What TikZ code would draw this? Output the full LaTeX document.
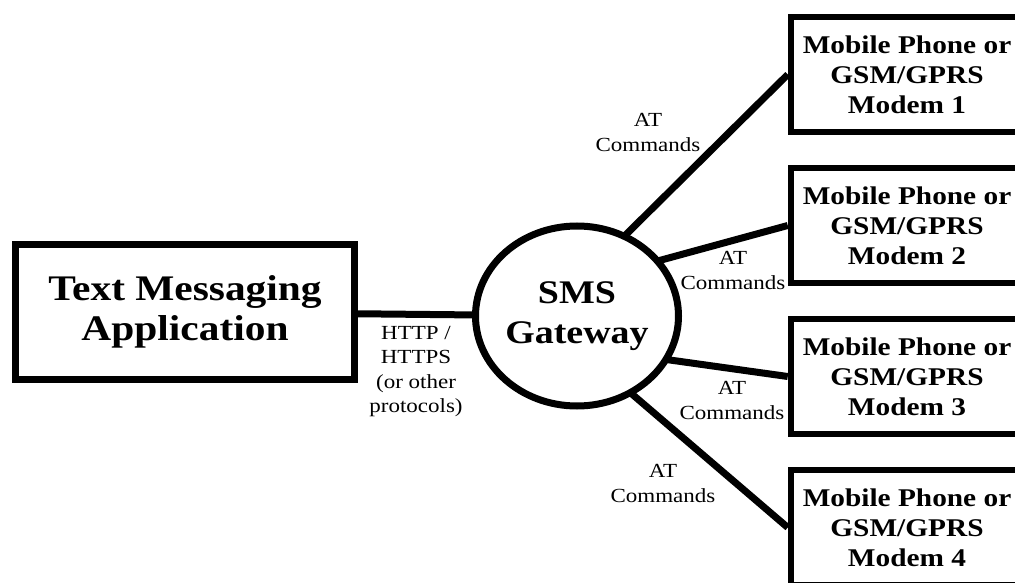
\documentclass[tikz,border=0pt]{standalone}
\usepackage{fontspec}
\setmainfont{Liberation Serif}[FakeStretch=1.15]
\usetikzlibrary{positioning,shapes.geometric,backgrounds}

\begin{document}
\begin{tikzpicture}[x=1pt, y=-1pt, line width=7pt,
    link/.style={line width=7pt},
    modem/.style={draw, line width=6.5pt, minimum width=232pt, minimum height=115pt, inner sep=0pt, align=center, font=\fontsize{25.5}{30}\selectfont\bfseries},
    atcmd/.style={align=center, inner sep=0pt, font=\fontsize{20}{25}\selectfont}]
    \useasboundingbox (0,0) rectangle (1015,583);
    \clip (0,0) rectangle (1015,583);
    \node [draw, minimum width=339pt, minimum height=135pt, inner sep=0pt, align=center, font=\fontsize{36}{40}\selectfont\bfseries](app) at (185,312){Text Messaging\\Application};
    \node [draw, ellipse, fill=white, minimum width=203pt, minimum height=180pt, inner sep=0pt, align=center, font=\fontsize{33}{40}\selectfont\bfseries](gw) at (577,316){SMS\\Gateway};
    \coordinate (gwup) at (577,283);
    \coordinate (gwdown) at (577,347);
    \node [modem](m1) at (907,74.5){Mobile Phone or\\GSM/GPRS\\Modem 1};
    \node [modem, below=29.5pt of m1](m2){Mobile Phone or\\GSM/GPRS\\Modem 2};
    \node [modem, below=29.5pt of m2](m3){Mobile Phone or\\GSM/GPRS\\Modem 3};
    \node [modem, below=29.5pt of m3](m4){Mobile Phone or\\GSM/GPRS\\Modem 4};
    \begin{scope}[on background layer]
    \draw[link] (app) -- (gw);
    \draw[link] (gwup) -- (m1.west);
    \draw[link] (gwup) -- (m2.west);
    \draw[link] (gwdown) -- (m3.west);
    \draw[link] (gwdown) -- (m4.west);
    \end{scope}
    \node [atcmd, font=\fontsize{20}{24.5}\selectfont](http) at (416,371.5){HTTP /\\HTTPS\\(or other\\protocols)};
    \node [atcmd](at1) at (648,132.5){AT\\Commands};
    \node [atcmd](at2) at (733,270.5){AT\\Commands};
    \node [atcmd](at3) at (732,400.5){AT\\Commands};
    \node [atcmd](at4) at (663,483.5){AT\\Commands};
\end{tikzpicture}
\end{document}
